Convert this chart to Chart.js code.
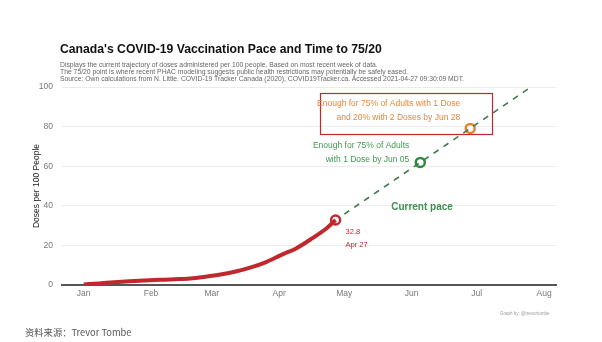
<!DOCTYPE html>
<html>
<head>
<meta charset="utf-8">
<script src="https://cdn.jsdelivr.net/npm/chart.js@4/dist/chart.umd.min.js"></script>
<style>
  html, body { margin: 0; padding: 0; background: #fff; }
  #wrap { position: relative; width: 602px; height: 342px; overflow: hidden; font-family: "Liberation Sans", Arial, sans-serif; }
  #c { position: absolute; left: 0; top: 0; }
  .title { position: absolute; left: 60px; top: 42px; font-size: 12.2px; font-weight: bold; color: #111; white-space: nowrap; }
  .sub { position: absolute; left: 60px; font-size: 6.8px; color: #666; white-space: nowrap; }
  .credit { position: absolute; left: 500px; top: 311px; font-size: 4.5px; color: #999; }
  .source { position: absolute; left: 25px; top: 325px; font-size: 9.3px; color: #555; font-family: "Noto Sans CJK SC", "Liberation Sans", sans-serif; }
</style>
</head>
<body>
<div id="wrap">
  <canvas id="c" width="602" height="342"></canvas>
  <div class="title">Canada's COVID-19 Vaccination Pace and Time to 75/20</div>
  <div class="sub" style="top:60.5px">Displays the current trajectory of doses administered per 100 people. Based on most recent week of data.</div>
  <div class="sub" style="top:67.5px">The 75/20 point is where recent PHAC modeling suggests public health restrictions may potentially be safely eased.</div>
  <div class="sub" style="top:74.5px">Source: Own calculations from N. Little. COVID-19 Tracker Canada (2020), COVID19Tracker.ca. Accessed 2021-04-27 09:30:09 MDT.</div>
  <div class="credit">Graph by: @trevortombe</div>
  <div class="source">资料来源：Trevor Tombe</div>
</div>
<script>
// days since Jan 1 2021
monthDays = [0, 31, 59, 90, 120, 151, 181, 212];
monthLabels = ['Jan', 'Feb', 'Mar', 'Apr', 'May', 'Jun', 'Jul', 'Aug'];

// doses per 100 people, actual
actualDays = [0, 7, 14, 21, 28, 35, 42, 49, 56, 63, 70, 77, 84, 91, 98, 105, 112, 116];
actualDoses = [0.3, 0.8, 1.4, 1.9, 2.3, 2.6, 2.9, 3.3, 4.2, 5.3, 6.8, 8.9, 11.6, 15.2, 18.6, 23.4, 28.8, 32.8];

// projected pace (dashed)
paceDays = [120, 206];
paceDoses = [35.8, 100];

// milestones
latest = {day: 116, value: 32.8};
oneDose = {day: 155, value: 61.9};
twoDose = {day: 178, value: 79.1};

var ctx = document.getElementById('c').getContext('2d');

function pts(xs, ys) {
    var out = [];
    for (var i = 0; i < xs.length; i++) out.push({x: xs[i], y: ys[i]});
    return out;
}

// text annotations drawn at data positions
var notes = {
    id: 'notes',
    afterDatasetsDraw: function(chart) {
        var c = chart.ctx, x = chart.scales.x, y = chart.scales.y;
        c.save();
        // y axis title
        c.translate(37, (chart.chartArea.top + chart.chartArea.bottom) / 2);
        c.rotate(-Math.PI / 2);
        c.font = '8.5px "Liberation Sans", Arial, sans-serif';
        c.textAlign = 'center';
        c.textBaseline = 'middle';
        c.fillStyle = '#222';
        c.fillText('Doses per 100 People', 0, 0);
        c.restore();

        c.save();
        // red box around the 75/20 label
        c.strokeStyle = '#c0282d';
        c.lineWidth = 1.2;
        c.strokeRect(320.5, 93.5, 172, 41);

        c.font = '8.5px "Liberation Sans", Arial, sans-serif';
        c.textAlign = 'right';
        c.textBaseline = 'middle';
        c.fillStyle = '#e8873a';
        c.fillText('Enough for 75% of Adults with 1 Dose', x.getPixelForValue(twoDose.day) - 10, 104);
        c.fillText('and 20% with 2 Doses by Jun 28', x.getPixelForValue(twoDose.day) - 10, 118);

        c.fillStyle = '#3f9a4f';
        c.fillText('Enough for 75% of Adults', x.getPixelForValue(oneDose.day) - 11, 146);
        c.fillText('with 1 Dose by Jun 05', x.getPixelForValue(oneDose.day) - 11, 160);

        c.font = 'bold 10px "Liberation Sans", Arial, sans-serif';
        c.textAlign = 'center';
        c.fillStyle = '#3f8f52';
        c.fillText('Current pace', 422, 207);

        c.font = '7.5px "Liberation Sans", Arial, sans-serif';
        c.textAlign = 'left';
        c.fillStyle = '#c0282d';
        c.fillText(latest.value.toFixed(1), x.getPixelForValue(latest.day) + 10, y.getPixelForValue(latest.value) + 12);
        c.fillText('Apr 27', x.getPixelForValue(latest.day) + 10, y.getPixelForValue(latest.value) + 25);
        c.restore();
    }
};

var chart = new Chart(ctx, {
    type: 'scatter',
    data: {
        datasets: [
            {
                data: pts(paceDays, paceDoses),
                showLine: true,
                borderColor: '#3d7a4a',
                borderWidth: 1.6,
                borderDash: [6, 6],
                pointRadius: 0
            },
            {
                data: pts(actualDays, actualDoses),
                showLine: true,
                borderColor: '#c0282d',
                borderWidth: 4,
                cubicInterpolationMode: 'monotone',
                pointRadius: 0
            },
            {
                data: [{x: latest.day, y: latest.value}],
                pointRadius: 4.5,
                pointBorderWidth: 2.5,
                pointBorderColor: '#c0282d',
                pointBackgroundColor: '#fff'
            },
            {
                data: [{x: oneDose.day, y: oneDose.value}],
                pointRadius: 4.5,
                pointBorderWidth: 2.5,
                pointBorderColor: '#2f8a3e',
                pointBackgroundColor: '#fff'
            },
            {
                data: [{x: twoDose.day, y: twoDose.value}],
                pointRadius: 4.5,
                pointBorderWidth: 2.5,
                pointBorderColor: '#e8832a',
                pointBackgroundColor: '#fff'
            }
        ]
    },
    options: {
        responsive: false,
        animation: false,
        layout: {padding: {left: 0, top: 87, right: 46, bottom: 0}},
        plugins: {legend: {display: false}, tooltip: {enabled: false}},
        scales: {
            x: {
                type: 'linear',
                min: -10,
                max: 217.5,
                afterBuildTicks: function(s) { s.ticks = monthDays.map(function(d) { return {value: d}; }); },
                afterFit: function(s) { s.height = 57; },
                ticks: {
                    autoSkip: false,
                    maxRotation: 0,
                    padding: 4,
                    color: '#777',
                    font: {family: '"Liberation Sans", Arial, sans-serif', size: 8.5},
                    callback: function(v) { return monthLabels[monthDays.indexOf(v)]; }
                },
                grid: {display: false, drawTicks: false},
                border: {display: true, color: '#555', width: 2}
            },
            y: {
                min: 0,
                max: 100,
                afterFit: function(s) { s.width = 62; },
                ticks: {
                    stepSize: 20,
                    padding: 9,
                    color: '#777',
                    font: {family: '"Liberation Sans", Arial, sans-serif', size: 8.5}
                },
                grid: {color: '#ececec', drawTicks: false},
                border: {display: false}
            }
        }
    },
    plugins: [notes]
});
</script>
</body>
</html>
